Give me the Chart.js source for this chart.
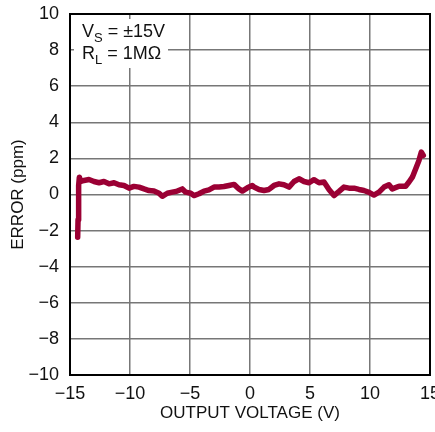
<!DOCTYPE html>
<html>
<head>
<meta charset="utf-8">
<script src="https://cdn.jsdelivr.net/npm/chart.js@4/dist/chart.umd.min.js"></script>
<style>
  html, body { margin: 0; padding: 0; background: #fff; overflow: hidden; }
  #wrap { width: 440px; height: 432px; }
</style>
</head>
<body>
<div id="wrap"><canvas id="c"></canvas></div>
<script>
// output voltage (V) vs error (ppm)
const voltage = [
  -14.36, -14.33, -14.3, -14.26, -14.22, -14.1, -13.83, -13.42, -13.0, -12.58,
  -12.17, -11.75, -11.33, -10.92, -10.5, -10.08, -9.67, -9.25, -8.83, -8.42,
  -8.0, -7.58, -7.31, -6.89, -6.47, -6.06, -5.64, -5.36, -4.94, -4.67,
  -4.25, -3.83, -3.42, -3.0, -2.58, -2.17, -1.75, -1.33, -0.92, -0.64,
  -0.22, 0.19, 0.33, 0.75, 1.17, 1.58, 2.0, 2.42, 2.83, 3.25,
  3.67, 4.08, 4.5, 4.92, 5.33, 5.75, 6.17, 6.58, 7.0, 7.42,
  7.83, 8.25, 8.67, 9.08, 9.5, 9.92, 10.33, 10.75, 11.17, 11.58,
  11.86, 12.42, 12.97, 13.25, 13.53, 13.81, 14.08, 14.28, 14.44
];
const errorPpm = [
  -2.37, -1.4, -0.5, 0.5, 0.96, 0.72, 0.78, 0.83, 0.72, 0.65,
  0.72, 0.59, 0.65, 0.54, 0.5, 0.35, 0.45, 0.41, 0.31, 0.22,
  0.19, 0.07, -0.1, 0.07, 0.13, 0.19, 0.31, 0.13, 0.07, -0.06,
  0.04, 0.19, 0.26, 0.41, 0.41, 0.44, 0.5, 0.56, 0.31, 0.19,
  0.37, 0.5, 0.41, 0.28, 0.22, 0.28, 0.5, 0.59, 0.54, 0.41,
  0.72, 0.87, 0.72, 0.65, 0.82, 0.65, 0.69, 0.28, -0.06, 0.17,
  0.41, 0.35, 0.35, 0.28, 0.22, 0.12, -0.03, 0.13, 0.41, 0.54,
  0.31, 0.46, 0.46, 0.69, 0.96, 1.43, 1.89, 2.35, 2.17
];
const xTicks = [-15, -10, -5, 0, 5, 10, 15];
const yTicks = [-10, -8, -6, -4, -2, 0, 2, 4, 6, 8, 10];

const FONT = "'Liberation Sans Narrow', 'Liberation Sans', Arial, sans-serif";
const minus = (v) => String(v).replace('-', '\u2212');

// white note box with the test conditions, plus the full black frame
const frame = {
  id: 'frame',
  beforeDatasetsDraw(chart) {
    const { ctx, chartArea: a } = chart;
    ctx.save();
    ctx.fillStyle = '#fff';
    ctx.fillRect(a.left + 4, a.top + 5, 94, 49);
    ctx.fillStyle = '#111';
    ctx.textBaseline = 'alphabetic';
    const line = (main, sub, rest, y) => {
      let x = a.left + 12;
      ctx.font = '18px ' + FONT;
      ctx.fillText(main, x, y);
      x += ctx.measureText(main).width;
      ctx.font = '13px ' + FONT;
      ctx.fillText(sub, x, y + 5);
      x += ctx.measureText(sub).width;
      ctx.font = '18px ' + FONT;
      ctx.fillText(rest, x, y);
    };
    line('V', 'S', ' = \u00b115V', a.top + 23);
    line('R', 'L', ' = 1M\u03a9', a.top + 45);
    ctx.strokeStyle = '#000';
    ctx.lineWidth = 2;
    ctx.strokeRect(a.left, a.top, a.right - a.left, a.bottom - a.top);
    ctx.restore();
  },
};

new Chart(document.getElementById('c'), {
  type: 'scatter',
  data: {
    datasets: [{
      data: voltage.map((v, i) => ({ x: v, y: errorPpm[i] })),
      showLine: true,
      borderColor: '#9b0034',
      borderWidth: 5.5,
      borderJoinStyle: 'round',
      borderCapStyle: 'round',
      pointRadius: 0,
      tension: 0,
    }],
  },
  options: {
    responsive: true,
    maintainAspectRatio: false,
    animation: false,
    layout: { padding: { top: 14, right: 10, left: 0, bottom: 0 } },
    plugins: { legend: { display: false }, tooltip: { enabled: false } },
    scales: {
      x: {
        type: 'linear',
        min: -15,
        max: 15,
        afterBuildTicks: (s) => { s.ticks = xTicks.map((v) => ({ value: v })); },
        afterFit: (s) => {
          s.height = 57;
          s.paddingLeft = 0;
          s.paddingRight = 0;
        },
        grid: { color: '#777', lineWidth: 1.5, drawTicks: false },
        border: { color: '#000', width: 2 },
        ticks: {
          padding: 8,
          color: '#111',
          font: { family: FONT, size: 18 },
          maxRotation: 0,
          callback: minus,
        },
        title: {
          display: true,
          text: 'OUTPUT VOLTAGE (V)',
          color: '#111',
          font: { family: FONT, size: 17 },
          padding: { top: 0, bottom: 8 },
        },
      },
      y: {
        min: -10,
        max: 10,
        afterBuildTicks: (s) => { s.ticks = yTicks.map((v) => ({ value: v })); },
        afterFit: (s) => {
          s.width = 70;
          s.paddingTop = 0;
          s.paddingBottom = 0;
        },
        grid: { color: '#777', lineWidth: 1.5, drawTicks: false },
        border: { color: '#000', width: 2 },
        ticks: {
          padding: 11,
          color: '#111',
          font: { family: FONT, size: 18 },
          callback: minus,
        },
        title: {
          display: true,
          text: 'ERROR (ppm)',
          color: '#111',
          font: { family: FONT, size: 17 },
          padding: { top: 8, bottom: 0 },
        },
      },
    },
  },
  plugins: [frame],
});
</script>
</body>
</html>
